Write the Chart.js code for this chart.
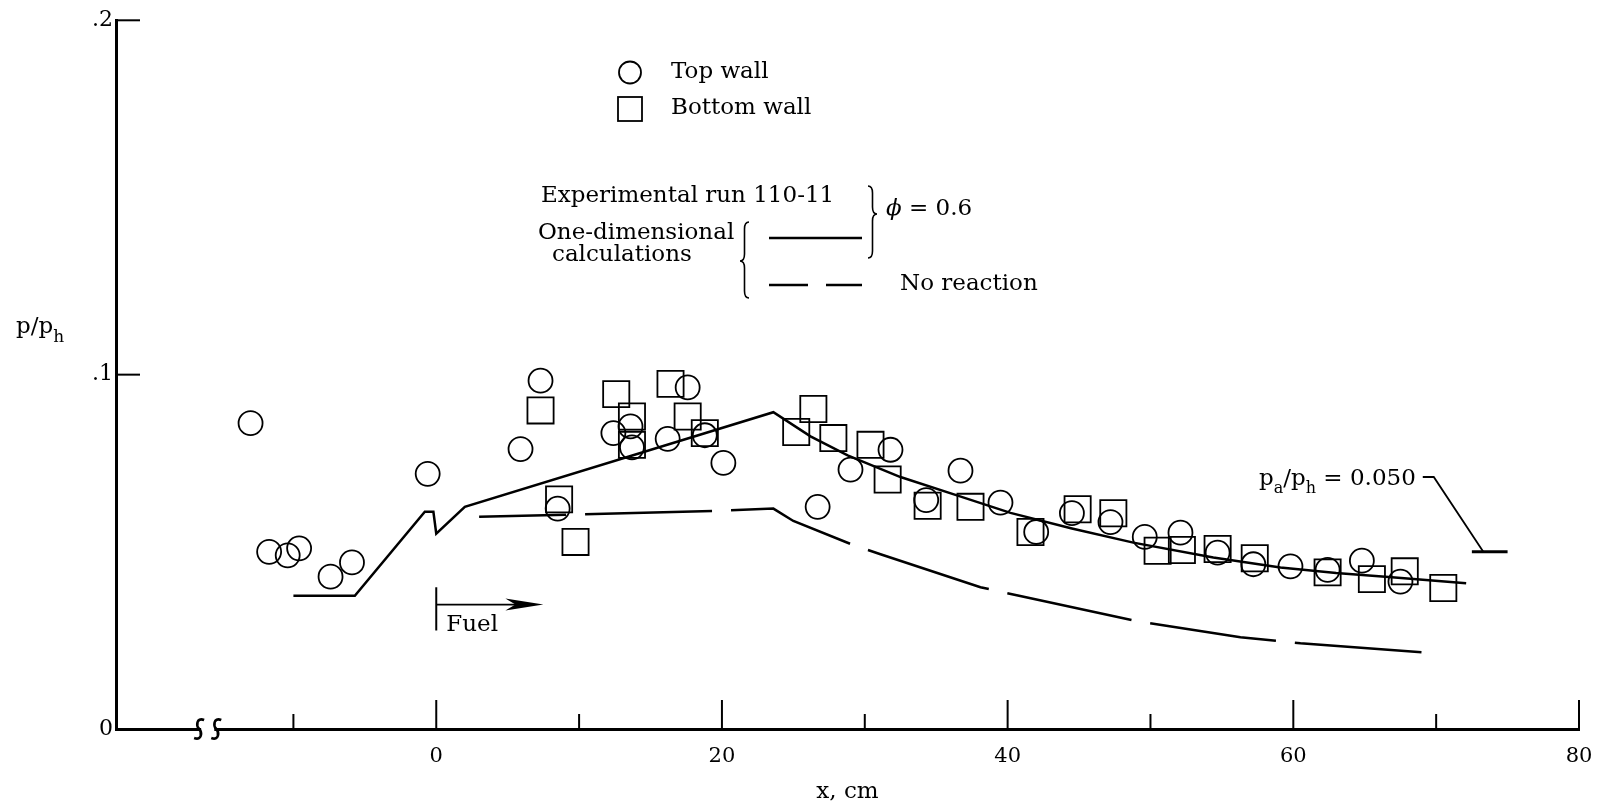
<!DOCTYPE html>
<html><head><meta charset="utf-8">
<script src="https://cdn.jsdelivr.net/npm/chart.js@4.4.1/dist/chart.umd.min.js"></script>
<style>html,body{margin:0;padding:0;background:#fff;}#wrap{width:1601px;height:808px;}</style>
</head><body><div id="wrap"><canvas id="c" width="1601" height="808"></canvas></div>
<script>
// ---- data (x in cm, y = p/p_h) ----
const topWallX = [-13.0, -11.7, -10.4, -9.6, -7.4, -5.9, -0.6, 5.9, 7.3, 8.5, 12.4, 13.6, 13.7, 16.2, 17.6, 18.8, 20.1, 26.7, 29.0, 31.8, 34.3, 36.7, 39.5, 42.0, 44.5, 47.2, 49.6, 52.1, 54.7, 57.2, 59.8, 62.4, 64.8, 67.5];
const topWallY = [0.0863, 0.050, 0.049, 0.051, 0.043, 0.047, 0.072, 0.079, 0.0983, 0.0622, 0.0835, 0.0854, 0.0795, 0.0819, 0.0964, 0.0829, 0.0751, 0.0627, 0.0732, 0.0788, 0.0646, 0.0729, 0.0639, 0.0556, 0.0609, 0.0584, 0.0542, 0.0554, 0.0498, 0.0465, 0.0459, 0.0449, 0.0475, 0.0416];
const bottomWallX = [7.3, 8.6, 9.75, 12.6, 13.7, 13.7, 16.4, 17.6, 18.8, 25.2, 26.4, 27.8, 30.4, 31.6, 34.4, 37.4, 41.6, 44.9, 47.4, 50.5, 52.2, 54.7, 57.3, 62.4, 65.5, 67.8, 70.5];
const bottomWallY = [0.0899, 0.0648, 0.0528, 0.0945, 0.0882, 0.0802, 0.0974, 0.0882, 0.0835, 0.0838, 0.0903, 0.0821, 0.0802, 0.0704, 0.0630, 0.0627, 0.0556, 0.0620, 0.0609, 0.0503, 0.0505, 0.0508, 0.0482, 0.0442, 0.0423, 0.0445, 0.0398];
const reactionX = [-10.0, -5.7, -0.8, -0.2, 0.0, 2.0, 23.6, 26.2, 28.8, 32.5, 36.4, 40.2, 44.5, 48.8, 54.4, 59.1, 63.0, 66.9, 72.1];
const reactionY = [0.0376, 0.0376, 0.0613, 0.0613, 0.0551, 0.0627, 0.0894, 0.0826, 0.0772, 0.0711, 0.0660, 0.0610, 0.0566, 0.0526, 0.0484, 0.0456, 0.0440, 0.0428, 0.0411];
const noReactionX = [3.0, 19.4, 23.6, 25.0, 29.2, 31.1, 38.1, 40.8, 49.2, 56.3, 60.5, 69.8];
const noReactionY = [0.0599, 0.0615, 0.0622, 0.0587, 0.0519, 0.0493, 0.0400, 0.0376, 0.0303, 0.0259, 0.0242, 0.0214];

const xMajorTicks = [0, 20, 40, 60, 80];
const xMinorTicks = [-10, 10, 30, 50, 70];
const xTickLabels = ['0', '20', '40', '60', '80'];
const yTickValues = [0, 0.1, 0.2];
const yTickLabels = ['0', '.1', '.2'];
const xMin = -22.42, xMax = 80;

const ambientBarX = [72.5, 75.0];
const ambientBarY = 0.050;
const ambientLeaderEndX = 73.3;
const fuelMarkX = 0;
const fuelMarkY = [0.0278, 0.040];
const fuelArrowX = [0, 7.5];
const fuelArrowY = 0.0351;
const axisBreakX = [-16.6, -15.4];

const SERIF = '"DejaVu Serif", "Liberation Serif", serif';
const TXT = 23;
const pts = (xs, ys) => xs.map((x, i) => ({x, y: ys[i]}));

function brace(ctx, x, y1, ym, y2, d, r) {
  ctx.beginPath();
  ctx.moveTo(x, y1);
  ctx.quadraticCurveTo(x - d / 2, y1, x - d / 2, y1 + r);
  ctx.lineTo(x - d / 2, ym - r);
  ctx.quadraticCurveTo(x - d / 2, ym, x - d, ym);
  ctx.quadraticCurveTo(x - d / 2, ym, x - d / 2, ym + r);
  ctx.lineTo(x - d / 2, y2 - r);
  ctx.quadraticCurveTo(x - d / 2, y2, x, y2);
  ctx.stroke();
}
function seg(ctx, x1, y1, x2, y2) { ctx.beginPath(); ctx.moveTo(x1, y1); ctx.lineTo(x2, y2); ctx.stroke(); }

const overlay = {
  id: 'overlay',
  afterDraw(chart) {
    const ctx = chart.ctx, xs = chart.scales.x, ys = chart.scales.y;
    const X = v => xs.getPixelForValue(v), Y = v => ys.getPixelForValue(v);
    ctx.save();
    ctx.strokeStyle = '#000'; ctx.fillStyle = '#000'; ctx.lineCap = 'butt';
    const y0 = Y(0), x0 = X(xMin);
    // inward ticks
    ctx.lineWidth = 2;
    xMajorTicks.forEach(v => seg(ctx, X(v), y0, X(v), y0 - 29));
    xMinorTicks.forEach(v => seg(ctx, X(v), y0, X(v), y0 - 15));
    yTickValues.filter(v => v > 0).forEach(v => seg(ctx, x0, Y(v), x0 + 24, Y(v)));
    // axis break
    ctx.fillStyle = '#fff';
    ctx.fillRect(X(axisBreakX[0]) + 2, y0 - 3, X(axisBreakX[1]) - X(axisBreakX[0]) - 4, 6);
    ctx.fillStyle = '#000';
    ctx.lineWidth = 2.6;
    axisBreakX.forEach(v => {
      const cx = X(v);
      ctx.beginPath();
      ctx.moveTo(cx + 5, y0 - 9);
      ctx.bezierCurveTo(cx - 3, y0 - 12, cx - 3, y0 - 3, cx, y0);
      ctx.bezierCurveTo(cx + 3, y0 + 3, cx + 3, y0 + 12, cx - 5, y0 + 9);
      ctx.stroke();
    });
    // y axis title p/p_h
    ctx.textBaseline = 'alphabetic'; ctx.textAlign = 'left';
    ctx.font = TXT + 'px ' + SERIF;
    ctx.fillText('p/p', 16, 333);
    let w = ctx.measureText('p/p').width;
    ctx.font = '17px ' + SERIF;
    ctx.fillText('h', 16 + w, 342);
    // legend block
    ctx.lineWidth = 1.8;
    ctx.beginPath(); ctx.arc(630, 72.5, 11, 0, Math.PI * 2); ctx.stroke();
    ctx.strokeRect(618, 97, 24, 24);
    ctx.font = TXT + 'px ' + SERIF; ctx.textBaseline = 'middle';
    ctx.fillText('Top wall', 671, 72);
    ctx.fillText('Bottom wall', 671, 108);
    ctx.fillText('Experimental run 110-11', 541, 196);
    ctx.fillText('One-dimensional', 538, 233);
    ctx.fillText('calculations', 552, 255);
    ctx.fillText('No reaction', 900, 284);
    ctx.font = 'italic ' + TXT + 'px ' + SERIF;
    ctx.fillText('\u03D5', 886, 209);
    let pw = ctx.measureText('\u03D5').width;
    ctx.font = TXT + 'px ' + SERIF;
    ctx.fillText(' = 0.6', 886 + pw, 209);
    ctx.lineWidth = 1.6;
    brace(ctx, 749, 222, 261, 298, 9, 7);
    brace(ctx, 868, 186, 214, 258, -9, 7);
    ctx.lineWidth = 2.5;
    seg(ctx, 769, 238, 862, 238);
    seg(ctx, 769, 285, 808, 285);
    seg(ctx, 826, 285, 862, 285);
    // fuel marker
    ctx.lineWidth = 2;
    seg(ctx, X(fuelMarkX), Y(fuelMarkY[0]), X(fuelMarkX), Y(fuelMarkY[1]));
    const tipX = X(fuelArrowX[1]), ay = Y(fuelArrowY);
    ctx.lineWidth = 1.6;
    seg(ctx, X(fuelArrowX[0]), ay, tipX - 20, ay);
    ctx.beginPath();
    ctx.moveTo(tipX, ay); ctx.lineTo(tipX - 38, ay - 6); ctx.lineTo(tipX - 28, ay); ctx.lineTo(tipX - 38, ay + 6); ctx.closePath(); ctx.fill();
    ctx.font = TXT + 'px ' + SERIF; ctx.textBaseline = 'middle';
    ctx.fillText('Fuel', X(fuelMarkX) + 10, 625);
    // ambient pressure annotation
    ctx.textBaseline = 'alphabetic';
    let tx = 1259; const tb = 485;
    const parts = [['p', TXT, 0], ['a', 16, 8], ['/p', TXT, 0], ['h', 16, 8], [' = 0.050', TXT, 0]];
    parts.forEach(([t, s, dy]) => { ctx.font = s + 'px ' + SERIF; ctx.fillText(t, tx, tb + dy); tx += ctx.measureText(t).width; });
    ctx.lineWidth = 1.8;
    const ly = 477;
    ctx.beginPath(); ctx.moveTo(tx + 7, ly); ctx.lineTo(tx + 18, ly); ctx.lineTo(X(ambientLeaderEndX), Y(ambientBarY)); ctx.stroke();
    ctx.lineWidth = 3;
    seg(ctx, X(ambientBarX[0]), Y(ambientBarY), X(ambientBarX[1]), Y(ambientBarY));
    ctx.restore();
  }
};

new Chart(document.getElementById('c'), {
  type: 'scatter',
  data: {
    datasets: [
      { label: 'One-dimensional calculations', data: pts(reactionX, reactionY), showLine: true, pointRadius: 0, borderColor: '#000', borderWidth: 2.5, tension: 0, fill: false, clip: false },
      { label: 'No reaction', data: pts(noReactionX, noReactionY), showLine: true, pointRadius: 0, borderColor: '#000', borderWidth: 2.5, borderDash: [127, 19], borderDashOffset: 40, tension: 0, fill: false, clip: false },
      { label: 'Top wall', data: pts(topWallX, topWallY), pointStyle: 'circle', pointRadius: 12, pointHoverRadius: 12, pointBorderWidth: 1.8, borderColor: '#000', backgroundColor: 'rgba(0,0,0,0)', clip: false },
      { label: 'Bottom wall', data: pts(bottomWallX, bottomWallY), pointStyle: 'rect', pointRadius: 18.5, pointHoverRadius: 18.5, pointBorderWidth: 1.8, borderColor: '#000', backgroundColor: 'rgba(0,0,0,0)', clip: false }
    ]
  },
  options: {
    responsive: false, animation: false, devicePixelRatio: 1,
    layout: { padding: { top: 17, right: 22, left: 0, bottom: 0 } },
    plugins: { legend: { display: false }, tooltip: { enabled: false } },
    events: [],
    scales: {
      x: {
        type: 'linear', min: xMin, max: xMax,
        grid: { display: false, drawTicks: true, tickLength: 8 },
        border: { display: true, color: '#000', width: 3 },
        afterBuildTicks: s => { s.ticks = xMajorTicks.map(v => ({ value: v })); },
        afterFit: s => { s.height = 79; },
        ticks: { padding: 7, color: '#000', font: { family: SERIF, size: 21 }, maxRotation: 0, autoSkip: false,
          callback: (v, i) => xTickLabels[i] },
        title: { display: true, text: 'x, cm', color: '#000', font: { family: SERIF, size: TXT }, padding: { top: 0, bottom: 2 } }
      },
      y: {
        min: 0, max: 0.2,
        grid: { display: false, drawTicks: false },
        border: { display: true, color: '#000', width: 3 },
        afterBuildTicks: s => { s.ticks = yTickValues.map(v => ({ value: v })); },
        afterFit: s => { s.width = 116; },
        ticks: { padding: 3, color: '#000', font: { family: SERIF, size: 22 }, autoSkip: false,
          callback: (v, i) => yTickLabels[i] }
      }
    }
  },
  plugins: [overlay]
});
</script>
</body></html>
